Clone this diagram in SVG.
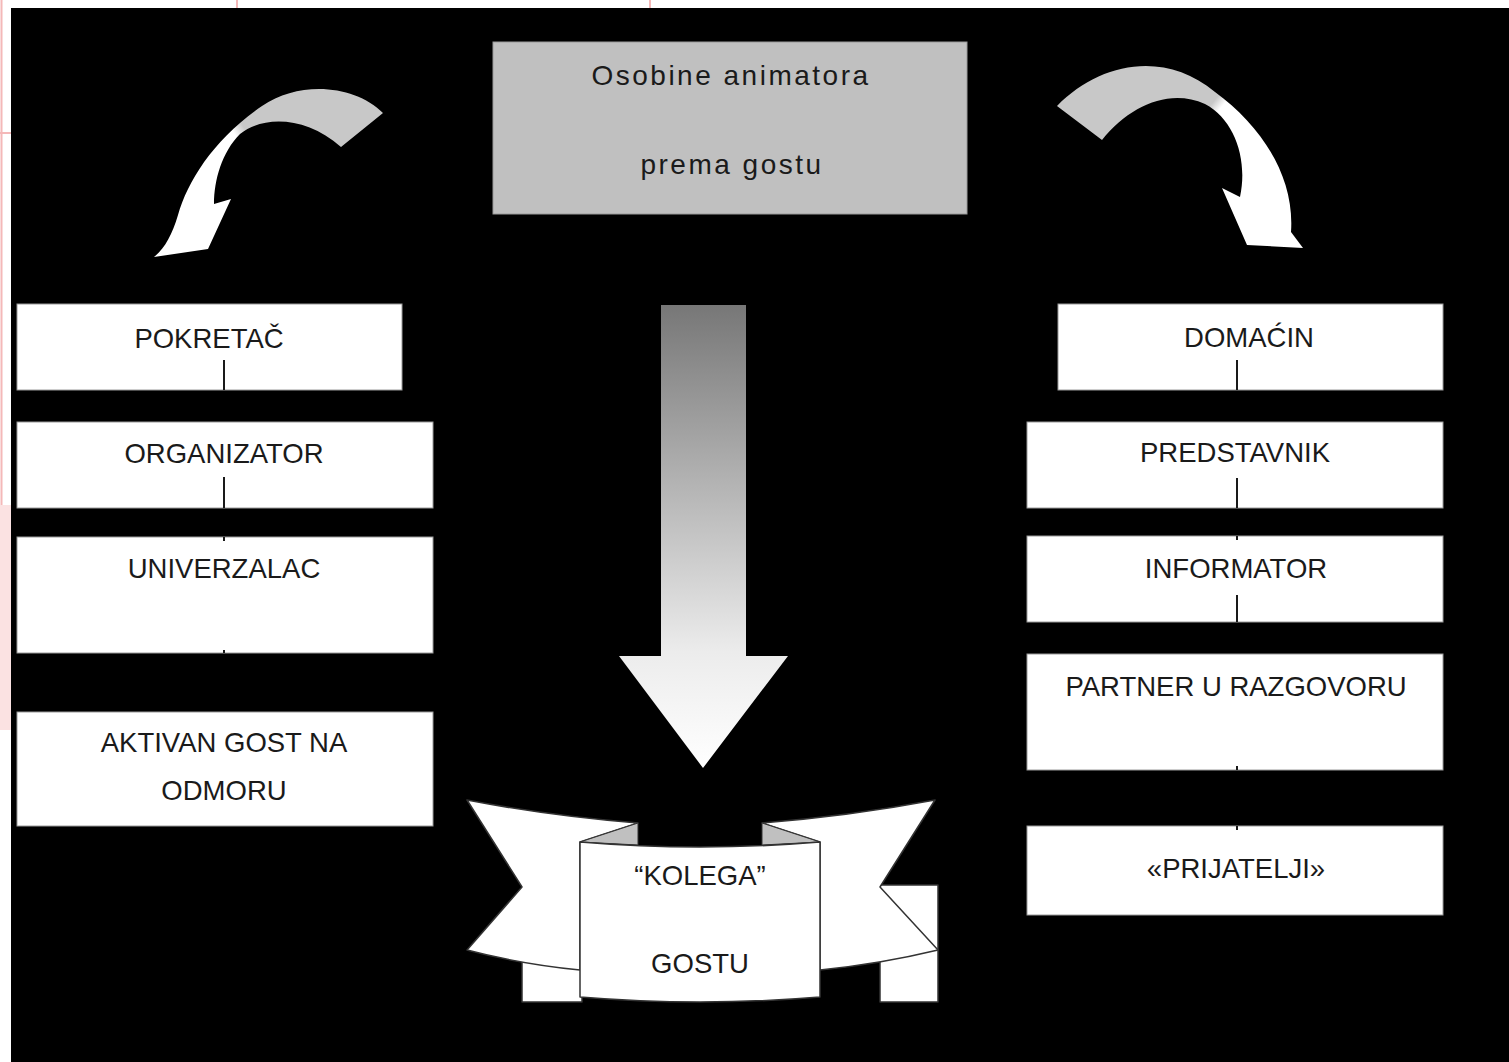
<svg xmlns="http://www.w3.org/2000/svg" width="1509" height="1062" viewBox="0 0 1509 1062">
<style>
.box{fill:#fff;stroke:#9a9a9a;stroke-width:1}
.t{font-family:"Liberation Sans",Arial,sans-serif;font-size:27.5px;fill:#1a1a1a;text-anchor:middle}
.tt{font-family:"Liberation Sans",Arial,sans-serif;font-size:28px;fill:#1a1a1a;text-anchor:middle;letter-spacing:2.5px}
.conn line{stroke:#1a1a1a;stroke-width:2}
.rib{fill:#fff;stroke:#333;stroke-width:1.5;stroke-linejoin:round}
.fold{fill:#c0c0c0;stroke:#333;stroke-width:1}
</style>
<defs>
<linearGradient id="gDown" x1="0" y1="0" x2="0" y2="1">
<stop offset="0" stop-color="#777"/>
<stop offset="0.75" stop-color="#ececec"/>
<stop offset="1" stop-color="#fff"/>
</linearGradient>
<linearGradient id="gLeft" gradientUnits="userSpaceOnUse" x1="330" y1="90" x2="210" y2="170">
<stop offset="0.64" stop-color="#c8c8c8"/>
<stop offset="0.72" stop-color="#fff"/>
</linearGradient>
<linearGradient id="gRight" gradientUnits="userSpaceOnUse" x1="1150" y1="60" x2="1260" y2="150">
<stop offset="0.53" stop-color="#c8c8c8"/>
<stop offset="0.6" stop-color="#fff"/>
</linearGradient>
</defs>

<rect width="1509" height="1062" fill="#fff"/>
<line x1="1.5" y1="0" x2="1.5" y2="505" stroke="#f4b8b8" stroke-width="2"/>
<line x1="0" y1="133" x2="11" y2="133" stroke="#f4b8b8" stroke-width="2"/>
<rect x="0" y="505" width="11" height="225" fill="#fbe2e2"/>
<line x1="237" y1="0" x2="237" y2="8" stroke="#f4b8b8" stroke-width="2"/>
<line x1="650" y1="0" x2="650" y2="8" stroke="#f4b8b8" stroke-width="2"/>
<rect x="11" y="8" width="1498" height="1054" fill="#000"/>

<g id="title">
<rect x="493" y="42" width="474" height="172" fill="#c0c0c0" stroke="#9a9a9a" stroke-width="1"/>
<text class="tt" x="731" y="85">Osobine animatora</text>
<text class="tt" x="732" y="174">prema gostu</text>
</g>

<g id="arrow-left">
<path fill="url(#gLeft)" d="M383,113 C355,85 300,80 262,106 C215,138 188,180 178,215 C172,235 165,248 154,257 L208,249 L231,199 L214,204 C214,180 222,152 240,134 C262,116 305,115 341,147 Z"/>
</g>
<g id="arrow-right">
<path fill="url(#gRight)" d="M1057,106 C1100,62 1165,50 1215,92 C1260,125 1295,175 1291,232 L1303,248 L1247,245 L1222,188 L1240,197 C1248,160 1235,120 1205,104 C1170,88 1130,105 1102,140 Z"/>
</g>
<g id="arrow-down">
<path fill="url(#gDown)" d="M661,305 H746 V656 H788 L703,768 L619,656 H661 Z"/>
</g>

<g id="pokretac">
<rect class="box" x="17" y="304" width="385" height="86"/>
<text class="t" x="209" y="348">POKRETAČ</text>
</g>
<g id="organizator">
<rect class="box" x="17" y="422" width="416" height="86"/>
<text class="t" x="224" y="463">ORGANIZATOR</text>
</g>
<g id="univerzalac">
<rect class="box" x="17" y="537" width="416" height="116"/>
<text class="t" x="224" y="578">UNIVERZALAC</text>
</g>
<g id="aktivan">
<rect class="box" x="17" y="712" width="416" height="114"/>
<text class="t" x="224" y="752">AKTIVAN GOST NA</text>
<text class="t" x="224" y="800">ODMORU</text>
</g>

<g id="domacin">
<rect class="box" x="1058" y="304" width="385" height="86"/>
<text class="t" x="1249" y="347">DOMAĆIN</text>
</g>
<g id="predstavnik">
<rect class="box" x="1027" y="422" width="416" height="86"/>
<text class="t" x="1235" y="462">PREDSTAVNIK</text>
</g>
<g id="informator">
<rect class="box" x="1027" y="536" width="416" height="86"/>
<text class="t" x="1236" y="578">INFORMATOR</text>
</g>
<g id="partner">
<rect class="box" x="1027" y="654" width="416" height="116"/>
<text class="t" x="1236" y="696">PARTNER U RAZGOVORU</text>
</g>
<g id="prijatelji">
<rect class="box" x="1027" y="826" width="416" height="89"/>
<text class="t" x="1236" y="878">«PRIJATELJI»</text>
</g>

<g id="connectors" class="conn">
<line x1="224" y1="360" x2="224" y2="390"/>
<line x1="224" y1="477" x2="224" y2="508"/>
<line x1="224" y1="537" x2="224" y2="541"/>
<line x1="224" y1="650" x2="224" y2="653"/>
<line x1="1237" y1="360" x2="1237" y2="390"/>
<line x1="1237" y1="478" x2="1237" y2="508"/>
<line x1="1237" y1="536" x2="1237" y2="540"/>
<line x1="1237" y1="595" x2="1237" y2="622"/>
<line x1="1237" y1="766" x2="1237" y2="770"/>
<line x1="1237" y1="826" x2="1237" y2="830"/>
</g>

<g id="kolega">
<rect class="rib" x="522" y="960" width="60" height="42"/>
<rect class="rib" x="880" y="885" width="58" height="117"/>
<path class="rib" d="M467,800 Q550,816 638,823 L580,842 L580,970 Q520,964 467,950 L522,887 Z"/>
<path class="fold" d="M580,842 L638,823 L638,845 Z"/>
<path class="rib" d="M935,800 Q850,816 762,823 L820,842 L820,970 Q880,964 938,950 L880,887 Z"/>
<path class="fold" d="M762,823 L820,842 L762,845 Z"/>
<path class="rib" d="M580,842 Q700,852 820,842 L820,997 Q700,1007 580,997 Z"/>
<text class="t" x="700" y="885">“KOLEGA”</text>
<text class="t" x="700" y="973">GOSTU</text>
</g>
</svg>
